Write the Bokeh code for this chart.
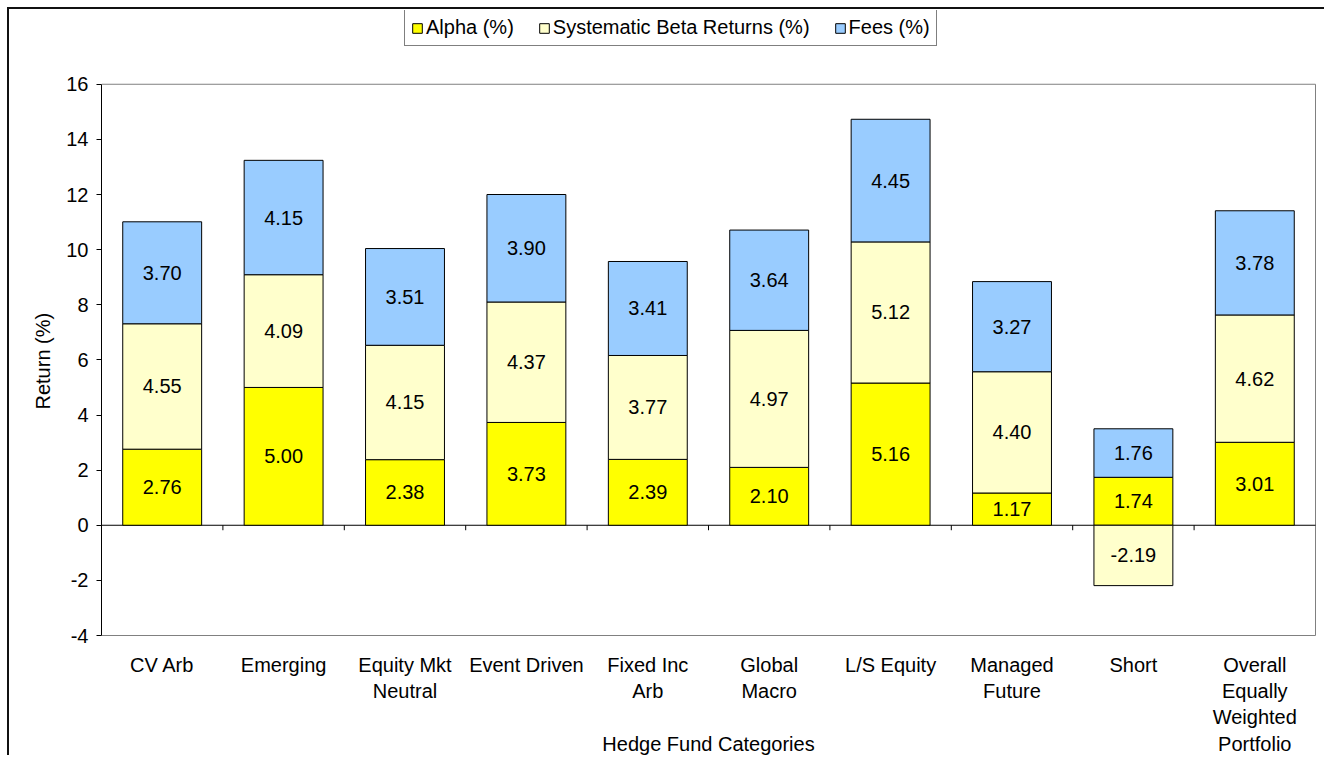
from bokeh.plotting import figure
from bokeh.models import (Range1d, LinearAxis, FixedTicker, Legend, LegendItem,
                          PrintfTickFormatter, Title)
from bokeh.core.properties import value
from bokeh.embed import file_html
from bokeh.resources import INLINE

categories = ["CV Arb", "Emerging", "Equity Mkt Neutral", "Event Driven", "Fixed Inc Arb",
              "Global Macro", "L/S Equity", "Managed Future", "Short",
              "Overall Equally Weighted Portfolio"]
tick_labels = ["CV Arb", "Emerging", "Equity Mkt\nNeutral", "Event Driven", "Fixed Inc\nArb",
               "Global\nMacro", "L/S Equity", "Managed\nFuture", "Short",
               "Overall\nEqually\nWeighted\nPortfolio"]
x_title = "Hedge Fund Categories"
y_title = "Return (%)"
y_ticks = [-4, -2, 0, 2, 4, 6, 8, 10, 12, 14, 16]
alpha = [2.76, 5.00, 2.38, 3.73, 2.39, 2.10, 5.16, 1.17, 1.74, 3.01]
beta = [4.55, 4.09, 4.15, 4.37, 3.77, 4.97, 5.12, 4.40, -2.19, 4.62]
fees = [3.70, 4.15, 3.51, 3.90, 3.41, 3.64, 4.45, 3.27, 1.76, 3.78]
series_names = ["Alpha (%)", "Systematic Beta Returns (%)", "Fees (%)"]
colors = ["#FFFF00", "#FFFFCC", "#99CCFF"]

FONT = "Liberation Sans"
FS = "20px"

n = len(categories)
xs = [i + 0.5 for i in range(n)]
y_lo, y_hi = y_ticks[0], y_ticks[-1]

# stacking
a_bot = [0.0] * n
a_top = alpha[:]
b_bot = [a if b >= 0 else 0.0 for a, b in zip(alpha, beta)]
b_top = [a + b if b >= 0 else b for a, b in zip(alpha, beta)]
pos_top = [a + max(b, 0) for a, b in zip(alpha, beta)]
f_bot = pos_top[:]
f_top = [p_ + f for p_, f in zip(pos_top, fees)]

# layout (pixels): plot area 1214 x 553, the frame reaches up to hold the legend
PLOT_W, PLOT_H = 1214, 553
EXTRA_TOP, EXTRA = 74, 2
ux = PLOT_W / n
uy = PLOT_H / (y_hi - y_lo)
FRAME_W = PLOT_W + EXTRA
FRAME_H = PLOT_H + EXTRA_TOP + EXTRA
LEFT, TOP = 92, 1
W_TOT, H_TOT = 1317, 748

p = figure(width=W_TOT, height=H_TOT, output_backend="svg", toolbar_location=None,
           x_range=Range1d(0, n + EXTRA / ux),
           y_range=Range1d(y_lo - EXTRA / uy, y_hi + EXTRA_TOP / uy),
           min_border_left=LEFT, min_border_top=TOP,
           min_border_right=W_TOT - LEFT - FRAME_W,
           min_border_bottom=H_TOT - TOP - FRAME_H,
           x_axis_type=None, y_axis_type=None)
p.styles = {"border-left": "2px solid #111111", "border-top": "2px solid #111111",
            "margin-left": "7px", "margin-top": "7px"}
p.grid.visible = False
p.outline_line_color = None
p.background_fill_color = "white"
p.border_fill_color = "white"

# y axis
yax = LinearAxis(ticker=FixedTicker(ticks=y_ticks), formatter=PrintfTickFormatter(format="%d"),
                 bounds=(y_lo, y_hi))
yax.axis_line_color = "black"
yax.major_tick_line_color = "black"
yax.major_tick_in = 0
yax.major_tick_out = 5
yax.minor_tick_line_color = None
yax.major_label_text_font = FONT
yax.major_label_text_font_size = FS
yax.major_label_text_color = "black"
yax.major_label_standoff = 8
p.add_layout(yax, "left")

ytitle = Title(text=y_title, align="left", offset=228, text_font=FONT, text_font_size=FS,
               text_font_style="normal", text_color="black", standoff=20)
p.add_layout(ytitle, "left")

# plot-area border (grey) on top, right and bottom
p.segment(x0=[0, n, 0], y0=[y_hi, y_lo, y_lo], x1=[n, n, n], y1=[y_hi, y_hi, y_lo],
          line_color="#808080", line_width=1)

# x axis: category labels plus the axis title on the 4th label line at the centre
title_pos = n / 2
xax = LinearAxis(ticker=FixedTicker(ticks=xs + [title_pos]))
overrides = {x: lab for x, lab in zip(xs, tick_labels)}
overrides[title_pos] = " \n \n \n" + x_title
xax.major_label_overrides = overrides
xax.axis_line_color = None
xax.major_tick_line_color = None
xax.minor_tick_line_color = None
xax.major_label_text_font = FONT
xax.major_label_text_font_size = FS
xax.major_label_text_color = "black"
xax.major_label_text_line_height = 1.2
xax.major_label_standoff = 10
p.add_layout(xax, "below")

# zero line and category separators
p.segment(x0=[0], y0=[0], x1=[n], y1=[0], line_color="black", line_width=1)
bounds = list(range(1, n))
p.segment(x0=bounds, y0=[0] * len(bounds), x1=bounds, y1=[-5 / uy] * len(bounds),
          line_color="black", line_width=1)

W = 0.65
r1 = p.vbar(x=xs, width=W, bottom=a_bot, top=a_top, fill_color=colors[0],
            line_color="black", line_width=1)
r2 = p.vbar(x=xs, width=W, bottom=b_bot, top=b_top, fill_color=colors[1],
            line_color="black", line_width=1)
r3 = p.vbar(x=xs, width=W, bottom=f_bot, top=f_top, fill_color=colors[2],
            line_color="black", line_width=1)

# value labels
lx, ly, lt = [], [], []
for bots, tops, vals in ((a_bot, a_top, alpha), (b_bot, b_top, beta), (f_bot, f_top, fees)):
    for x, b, t, v in zip(xs, bots, tops, vals):
        lx.append(x)
        ly.append((b + t) / 2)
        lt.append(f"{v:.2f}")
p.text(x=lx, y=ly, text=lt, text_align="center", text_baseline="middle",
       text_font=value(FONT), text_font_size=FS, text_color="black")

legend = Legend(items=[LegendItem(label=series_names[0], renderers=[r1]),
                       LegendItem(label=series_names[1], renderers=[r2]),
                       LegendItem(label=series_names[2], renderers=[r3])],
                orientation="horizontal", location=(303, EXTRA + PLOT_H + 36))
legend.border_line_color = "black"
legend.border_line_width = 1
legend.background_fill_color = "white"
legend.background_fill_alpha = 1
legend.label_text_font = FONT
legend.label_text_font_size = FS
legend.label_text_color = "black"
legend.glyph_width = 12
legend.glyph_height = 12
legend.label_standoff = 3
legend.spacing = 24
legend.padding = 6
legend.margin = 0
legend.label_height = 20
p.add_layout(legend, "center")

open("out.html", "w").write(file_html(p, INLINE))
